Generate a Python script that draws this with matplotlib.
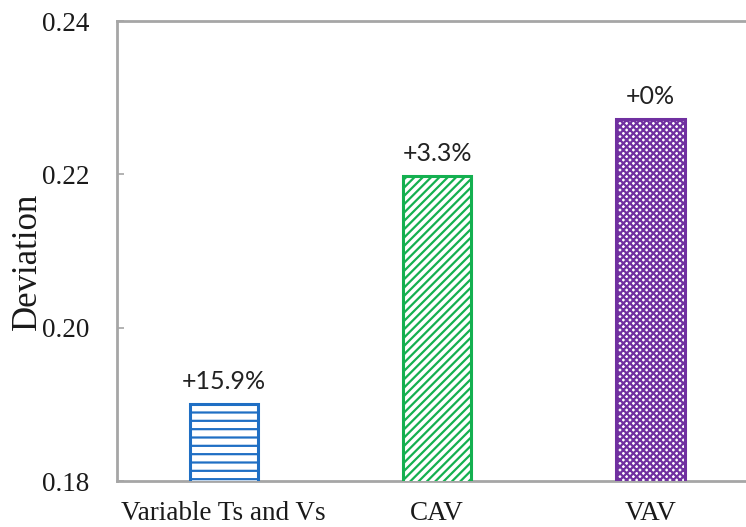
import numpy as np
import matplotlib
matplotlib.use("Agg")
import matplotlib.pyplot as plt

# deviation per control strategy
categories = ["Variable Ts and Vs", "CAV", "VAV"]
deviation = [0.1900, 0.2198, 0.2272]
change_labels = ["+15.9%", "+3.3%", "+0%"]

edge_colors = ["#1f6fc4", "#14b050", "#7030a0"]
hatches = ["--", "////", "xxxxx"]

plt.rcParams["font.family"] = ["Liberation Serif", "DejaVu Serif"]
plt.rcParams["hatch.linewidth"] = 1.6

fig = plt.figure(figsize=(7.46, 5.27), dpi=100)
ax = fig.add_axes([0.157, 0.087, 0.858, 0.873])

x = np.arange(len(categories))
bars = ax.bar(x, deviation, width=0.32, color="white",
              edgecolor=edge_colors, linewidth=2.2, zorder=3)
for b, h in zip(bars, hatches):
    b.set_hatch(h)

ax.bar_label(bars, labels=change_labels, padding=8, fontsize=18,
             family=["Lato", "DejaVu Sans"], color="#222222")

ax.set_xlim(-0.5, 2.5)
ax.set_ylim(0.18, 0.24)
ax.set_yticks([0.18, 0.20, 0.22, 0.24])
ax.set_yticklabels(["0.18", "0.20", "0.22", "0.24"])
ax.set_xticks(x)
ax.set_xticklabels(categories)

ax.tick_params(axis="y", direction="in", length=5, width=1.2, color="#a6a6a6",
               labelsize=19.5, pad=20, labelcolor="#1a1a1a")
ax.tick_params(axis="x", length=0, labelsize=19.5, pad=14, labelcolor="#1a1a1a")

for side in ["left", "top", "bottom"]:
    ax.spines[side].set_color("#a6a6a6")
    ax.spines[side].set_linewidth(2.0)
ax.spines["right"].set_visible(False)

ax.set_ylabel("Deviation", fontsize=25, color="#1a1a1a")
ax.yaxis.set_label_coords(-0.115, 0.478)

fig.savefig("out.png", dpi=100)
